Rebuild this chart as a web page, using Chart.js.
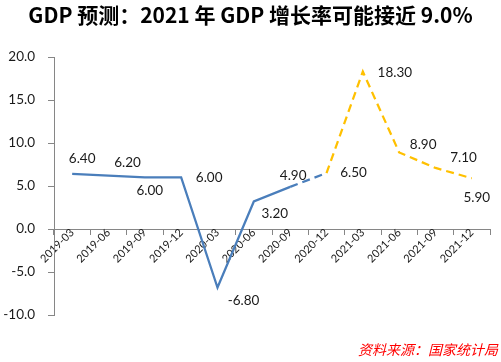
<!DOCTYPE html>
<html><head><meta charset="utf-8">
<script src="https://cdn.jsdelivr.net/npm/chart.js@4.4.0/dist/chart.umd.min.js"></script>
<style>html,body{margin:0;padding:0;background:#fff;}canvas{display:block;}</style>
</head><body>
<canvas id="c" width="501" height="362"></canvas>
<script>
// ---- data ----
const categories = ['2019-03','2019-06','2019-09','2019-12','2020-03','2020-06','2020-09','2020-12','2021-03','2021-06','2021-09','2021-12'];
const actual = [6.4, 6.2, 6.0, 6.0, -6.8, 3.2, 4.9];   // solid blue
const prelim = [6.5];                                  // 2020-12 (dashed blue)
const forecast = [18.3, 8.9, 7.1, 5.9];                // 2021 (dashed yellow)
const yTicks = [-10, -5, 0, 5, 10, 15, 20];
const titleText = 'GDP 预测：2021 年 GDP 增长率可能接近 9.0%';
const sourceText = '资料来源：国家统计局';

// ---- build series ----
const allValues = actual.concat(prelim, forecast);
const solidBlue = categories.map((c, i) => i < actual.length ? actual[i] : null);
const dashedBlue = categories.map((c, i) => i === actual.length - 1 ? actual[i] : (i === actual.length ? prelim[0] : null));
const dashedYellow = categories.map((c, i) => i === actual.length ? prelim[0] : (i > actual.length ? forecast[i - actual.length - 1] : null));

const labelPlugin = {
  id: 'valueLabels',
  afterDatasetsDraw(chart, args, opts) {
    const {ctx, scales: {x, y}} = chart;
    ctx.save();
    ctx.font = opts.font;
    ctx.fillStyle = opts.color;
    ctx.textAlign = 'center';
    ctx.textBaseline = 'middle';
    allValues.forEach((v, i) => {
      const o = opts.offsets[i];
      ctx.fillText(v.toFixed(2), x.getPixelForValue(i) + o[0], y.getPixelForValue(v) + o[1]);
    });
    ctx.restore();
  }
};
const sourcePlugin = {
  id: 'sourceNote',
  afterDraw(chart, args, opts) {
    const {ctx} = chart;
    ctx.save();
    ctx.font = opts.font;
    ctx.fillStyle = opts.color;
    ctx.textAlign = 'right';
    ctx.textBaseline = 'middle';
    ctx.fillText(opts.text, opts.x, opts.y);
    ctx.restore();
  }
};

const axisGrey = '#868686';
const BLUE = '#4A7EBB', YELLOW = '#FFC000';

new Chart(document.getElementById('c'), {
  type: 'line',
  data: {
    labels: categories,
    datasets: [
      {data: solidBlue, borderColor: BLUE, borderWidth: 2.25, pointRadius: 0, tension: 0},
      {data: dashedBlue, borderColor: BLUE, borderWidth: 2.25, borderDash: [8, 5], pointRadius: 0, tension: 0},
      {data: dashedYellow, borderColor: YELLOW, borderWidth: 2.25, borderDash: [8, 5], pointRadius: 0, tension: 0}
    ]
  },
  options: {
    responsive: false,
    animation: false,
    devicePixelRatio: 1,
    layout: {padding: {left: 0, right: 0, top: 0, bottom: 47}},
    plugins: {
      legend: {display: false},
      tooltip: {enabled: false},
      title: {
        display: true, text: titleText, color: '#000',
        font: {family: '"Noto Sans CJK SC"', size: 21, weight: 'bold'},
        padding: {top: 2, bottom: 29.8}
      },
      valueLabels: {
        font: '13.5px Lato', color: '#1a1a1a',
        offsets: [[10,-15],[19,-13],[5,13],[28,0],[26,13],[21,12],[3,-11],[27,0],[32,1],[24,-8],[28,-10],[5,19]]
      },
      sourceNote: {text: sourceText, font: 'italic 14px "Noto Sans CJK SC"', color: '#FF0000', x: 498, y: 350}
    },
    scales: {
      x: {
        type: 'category',
        offset: true,
        position: {y: 0},
        grid: {offset: true, drawOnChartArea: false, drawTicks: true, tickLength: 5, color: axisGrey},
        border: {display: true, color: axisGrey, width: 1},
        ticks: {minRotation: 45, maxRotation: 45, autoSkip: false, padding: -8, color: '#1a1a1a', font: {family: 'Lato', size: 11}}
      },
      y: {
        min: -10, max: 20,
        afterFit: s => { s.width = 54; },
        afterBuildTicks: s => { s.ticks = yTicks.map(v => ({value: v})); },
        grid: {drawOnChartArea: false, drawTicks: true, tickLength: 6, color: axisGrey},
        border: {display: true, color: axisGrey, width: 1},
        ticks: {padding: 13, color: '#1a1a1a', font: {family: 'Lato', size: 13.5}, callback: v => Number(v).toFixed(1)}
      },
      yRightSpacer: {
        type: 'linear', position: 'right', display: true,
        afterFit: s => { s.width = 11; },
        grid: {display: false}, border: {display: false}, ticks: {display: false}
      }
    }
  },
  plugins: [labelPlugin, sourcePlugin]
});
</script>
</body></html>
